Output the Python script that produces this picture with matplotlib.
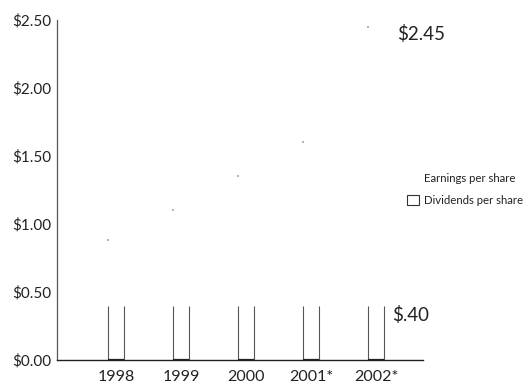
import matplotlib
matplotlib.use('Agg')
import matplotlib.pyplot as plt
from matplotlib.patches import Patch
import numpy as np

#-------------------------------------------data
years = ['1998', '1999', '2000', '2001*', '2002*']
earnings = [0.88, 1.10, 1.35, 1.60, 2.45]   # 1999/2000 barely visible in scan, estimated
dividends = [0.40, 0.40, 0.40, 0.40, 0.40]
yticks = [0.0, 0.5, 1.0, 1.5, 2.0, 2.5]

plt.rcParams['font.family'] = ['Lato', 'DejaVu Sans']
ink = '#222222'

#-------------------------------------------figure
fig = plt.figure(figsize=(5.25, 3.83), dpi=100)
ax = fig.add_axes([0.1086, 0.060, 0.697, 0.888])

x = np.arange(len(years))
w = 0.24

# earnings bars have faded in the print, only faint top corners are left
ax.bar(x, earnings, width=w, color='none', edgecolor='none')
ax.scatter(x - w / 2, earnings, s=1.2, color='#b5b5b5', marker='s', linewidths=0)

# dividends bars: open outline, sides only
ax.vlines(x - w / 2, 0, dividends, color='#555555', linewidth=0.8)
ax.vlines(x + w / 2, 0, dividends, color='#555555', linewidth=0.8)
ax.hlines([0] * len(x), x - w / 2, x + w / 2, color=ink, linewidth=1.6)

#-------------------------------------------value labels
ax.text(x[-1] + 0.32, earnings[-1] - 0.05, '\\$2.45', fontsize=13.5, color=ink, va='center', ha='left')
ax.text(x[-1] + 0.25, dividends[-1] - 0.07, '\\$.40', fontsize=13.5, color=ink, va='center', ha='left')

#-------------------------------------------axes
ax.set_xlim(-0.91, 4.72)
ax.set_ylim(0, 2.5)
ax.set_xticks(x)
ax.set_xticklabels(years, fontsize=11.5, color=ink)
ax.set_yticks(yticks)
ax.set_yticklabels(['\\$%.2f' % v for v in yticks], fontsize=11, color=ink)
ax.tick_params(length=0, pad=4)
ax.tick_params(axis='x', pad=7)
for s in ['top', 'right']:
    ax.spines[s].set_visible(False)
ax.spines['left'].set_color('#555555')
ax.spines['bottom'].set_color(ink)
ax.spines['left'].set_linewidth(0.9)
ax.spines['bottom'].set_linewidth(1.0)

#-------------------------------------------legend
handles = [Patch(facecolor='none', edgecolor='none', label='Earnings per share'),
           Patch(facecolor='white', edgecolor='#333333', linewidth=0.8, label='Dividends per share')]
fig.legend(handles=handles, loc='center left', bbox_to_anchor=(0.755, 0.505), frameon=False,
           fontsize=8.2, handlelength=1.1, handleheight=1.0, handletextpad=0.4, labelspacing=1.0,
           labelcolor=ink)

fig.savefig('out.png', dpi=100, facecolor='white')
